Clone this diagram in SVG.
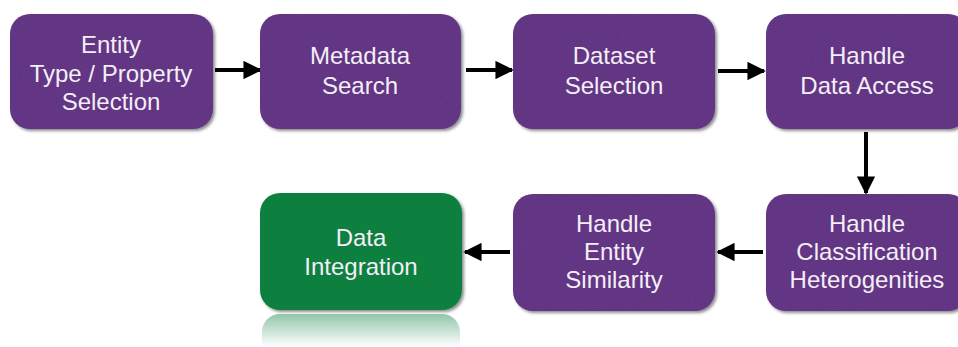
<svg xmlns="http://www.w3.org/2000/svg" width="958" height="347" viewBox="0 0 958 347">
  <defs>
    <style>
      .box { fill: #693b8c; filter: url(#paper); }
      .green { fill: #0a8041; filter: url(#shadow); }
      .label { font-family: "Liberation Sans", Arial, Helvetica, sans-serif; font-size: 24px; fill: #f4eef6; text-anchor: middle; }
      .edge { stroke: #000; stroke-width: 4; fill: none; marker-end: url(#head); }
    </style>
    <marker id="head" viewBox="0 0 10 10" refX="9" refY="5" markerWidth="5" markerHeight="4.6" markerUnits="strokeWidth" orient="auto">
      <path d="M0,0 L10,5 L0,10 z" fill="#000"/>
    </marker>
    <filter id="shadow" x="-5%" y="-5%" width="115%" height="120%">
      <feGaussianBlur in="SourceAlpha" stdDeviation="1.6"/>
      <feOffset dx="1.5" dy="2" result="b"/>
      <feFlood flood-color="#000" flood-opacity="0.45"/>
      <feComposite in2="b" operator="in" result="s"/>
      <feMerge><feMergeNode in="s"/><feMergeNode in="SourceGraphic"/></feMerge>
    </filter>
    <filter id="paper" x="-5%" y="-5%" width="115%" height="120%">
      <feTurbulence type="fractalNoise" baseFrequency="0.9" numOctaves="2" seed="4" result="n"/>
      <feColorMatrix in="n" type="matrix" values="0 0 0 0 0  0 0 0 0 0  0 0 0 0 0  0 0 0 0.22 0" result="na"/>
      <feComposite in="na" in2="SourceGraphic" operator="in" result="grain"/>
      <feMerge result="tex"><feMergeNode in="SourceGraphic"/><feMergeNode in="grain"/></feMerge>
      <feGaussianBlur in="SourceAlpha" stdDeviation="1.6"/>
      <feOffset dx="1.5" dy="2" result="b"/>
      <feFlood flood-color="#000" flood-opacity="0.45"/>
      <feComposite in2="b" operator="in" result="s"/>
      <feMerge><feMergeNode in="s"/><feMergeNode in="tex"/></feMerge>
    </filter>
    <linearGradient id="fade" x1="0" y1="0" x2="0" y2="1">
      <stop offset="0" stop-color="#0a8041" stop-opacity="0.45"/>
      <stop offset="1" stop-color="#0a8041" stop-opacity="0"/>
    </linearGradient>
  </defs>

  <rect width="958" height="347" fill="#fff"/>

  <!-- connectors -->
  <g id="connectors">
    <line class="edge" x1="215" y1="70" x2="260" y2="70"/>
    <line class="edge" x1="466" y1="70" x2="512" y2="70"/>
    <line class="edge" x1="718" y1="71" x2="764" y2="71"/>
    <line class="edge" x1="866" y1="132" x2="866" y2="193"/>
    <line class="edge" x1="763" y1="252" x2="718" y2="252"/>
    <line class="edge" x1="510" y1="252" x2="465" y2="252"/>
  </g>

  <g id="entity-selection">
    <rect class="box" x="10" y="14" width="203" height="115" rx="20"/>
    <text class="label" x="111" y="53">Entity</text>
    <text class="label" x="111" y="82">Type / Property</text>
    <text class="label" x="111" y="110">Selection</text>
  </g>

  <g id="metadata-search">
    <rect class="box" x="260" y="14" width="201" height="115" rx="20"/>
    <text class="label" x="360" y="64">Metadata</text>
    <text class="label" x="360" y="94">Search</text>
  </g>

  <g id="dataset-selection">
    <rect class="box" x="513" y="14" width="202" height="115" rx="20"/>
    <text class="label" x="614" y="64">Dataset</text>
    <text class="label" x="614" y="94">Selection</text>
  </g>

  <g id="handle-data-access">
    <rect class="box" x="766" y="14" width="202" height="115" rx="20"/>
    <text class="label" x="867" y="64">Handle</text>
    <text class="label" x="867" y="94">Data Access</text>
  </g>

  <g id="handle-classification">
    <rect class="box" x="766" y="194" width="202" height="117" rx="20"/>
    <text class="label" x="867" y="232">Handle</text>
    <text class="label" x="867" y="260">Classification</text>
    <text class="label" x="867" y="288">Heterogenities</text>
  </g>

  <g id="handle-entity-similarity">
    <rect class="box" x="513" y="194" width="202" height="117" rx="20"/>
    <text class="label" x="614" y="232">Handle</text>
    <text class="label" x="614" y="260">Entity</text>
    <text class="label" x="614" y="288">Similarity</text>
  </g>

  <g id="data-integration">
    <!-- mirrored reflection fading out under the box -->
    <path d="M280,314 h162 a18,18 0 0 1 18,18 v15 h-198 v-15 a18,18 0 0 1 18,-18 z" fill="url(#fade)"/>
    <rect class="green" x="260" y="193" width="202" height="117" rx="20"/>
    <text class="label" x="361" y="246">Data</text>
    <text class="label" x="361" y="275">Integration</text>
  </g>
</svg>
